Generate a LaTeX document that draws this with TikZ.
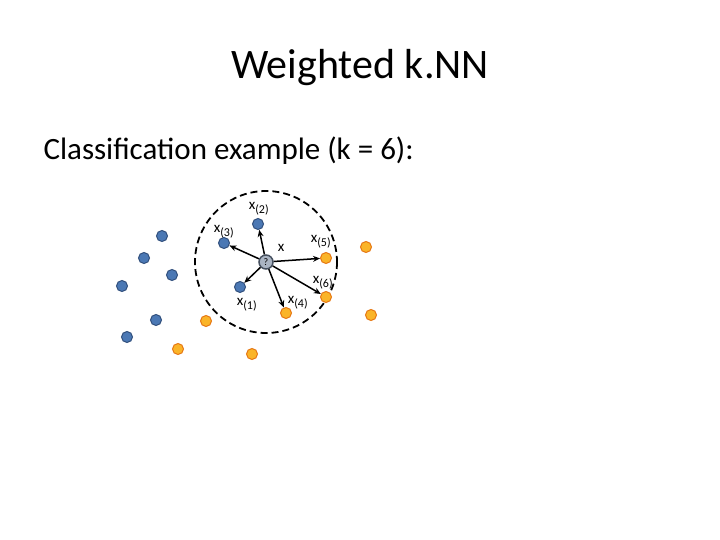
\documentclass[tikz,border=0pt]{standalone}
\usepackage{fontspec}
\usetikzlibrary{arrows.meta}
\setmainfont{Carlito}
\newcommand{\sbs}[1]{\textsubscript{\fontsize{12}{12}\selectfont(#1)}}
\begin{document}
\begin{tikzpicture}[x=1pt,y=-1pt,
 bl/.style={circle,draw={rgb,255:red,50;green,80;blue,125},fill={rgb,255:red,75;green,120;blue,180},minimum size=11pt,inner sep=0pt,line width=1pt},
 og/.style={circle,draw={rgb,255:red,230;green,120;blue,20},fill={rgb,255:red,250;green,180;blue,40},minimum size=11pt,inner sep=0pt,line width=1pt},
 lab/.style={font=\fontsize{15}{15}\selectfont,inner sep=0pt},
 arr/.style={-{Stealth[length=7pt,width=6pt]},line width=1.5pt}]
\useasboundingbox (0,0) rectangle (720,540);
\node[font=\fontsize{42}{42}\selectfont] (title) at (360,68) {Weighted k.NN};
\node[font=\fontsize{31}{31}\selectfont,anchor=west] (sub) at (40,151) {Classification example (k = 6):};
\draw[line width=1.8pt,dash pattern=on 7pt off 4pt] (266,262) circle (71);
\foreach \n/\x/\y in {b1/162/236,b2/144/258,b3/172/275,b4/122/286,b5/156/320,b6/127/337,n3/224/243,n2/258/224,n1/240/287}
 \node[bl] (\n) at (\x,\y) {};
\foreach \n/\x/\y in {o1/366/247,n5/326/258,n6/326/297,n4/286/313,o2/206/321,o3/178/349,o4/252/354,o5/371/315}
 \node[og] (\n) at (\x,\y) {};
\node[circle,draw={rgb,255:red,70;green,80;blue,95},fill={rgb,255:red,170;green,180;blue,195},minimum size=14pt,inner sep=0pt,line width=1.5pt,font=\fontsize{10}{10}\selectfont] (q) at (266,262) {?};
\foreach \n in {n1,n2,n3,n4,n5,n6} \draw[arr] (q) -- (\n);
\node[lab] (l2) at (259,209) {x\sbs{2}};
\node[lab] (l3) at (224,232) {x\sbs{3}};
\node[lab] (lx) at (281,248) {x};
\node[lab] (l5) at (321,242) {x\sbs{5}};
\node[lab] (l6) at (323,283) {x\sbs{6}};
\node[lab] (l1) at (247,305) {x\sbs{1}};
\node[lab] (l4) at (298,303) {x\sbs{4}};
\end{tikzpicture}
\end{document}
